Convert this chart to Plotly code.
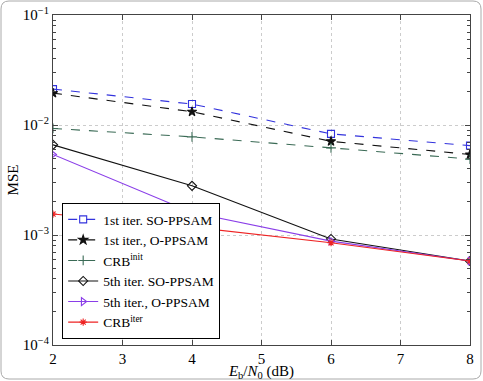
import plotly.graph_objects as go

ebn0 = [2, 4, 6, 8]
so_1st = [0.0212, 0.0155, 0.0083, 0.0065]
o_1st = [0.0195, 0.0132, 0.0071, 0.0054]
crb_init = [0.0093, 0.0078, 0.0062, 0.0049]
so_5th = [0.0066, 0.0028, 0.00092, 0.00058]
o_5th = [0.0054, 0.0016, 0.00088, 0.00058]
crb_iter = [0.00155, 0.00118, 0.00085, 0.00058]

x_ticks = [2, 3, 4, 5, 6, 7, 8]
y_ticks = [1e-4, 1e-3, 1e-2, 1e-1]
y_ticktext = ["10<sup>−4</sup>", "10<sup>−3</sup>", "10<sup>−2</sup>", "10<sup>−1</sup>"]
y_minor = [k * 10.0 ** e for e in (-4, -3, -2) for k in range(2, 10)]

series = [
    ("1st iter. SO-PPSAM", so_1st, "#3333dd", "dash", "square-open", 7),
    ("1st iter., O-PPSAM", o_1st, "#111111", "dash", "star", 7),
    ("CRB<sup>init</sup>", crb_init, "#3a6a55", "dash", "cross-thin-open", 7),
    ("5th iter. SO-PPSAM", so_5th, "#111111", "solid", "diamond-open", 7),
    ("5th iter., O-PPSAM", o_5th, "#8a3ee8", "solid", "triangle-right-open", 7),
    ("CRB<sup>iter</sup>", crb_iter, "#ee2222", "solid", "asterisk-open", 6),
]

fig = go.Figure()
for name, vals, col, dash, sym, sz in series:
    fig.add_trace(go.Scatter(
        x=ebn0, y=vals, name=name, mode="lines+markers",
        line=dict(color=col, dash=dash, width=1.1),
        marker=dict(symbol=sym, size=sz, color=col, line=dict(color=col, width=1.1)),
    ))

font = "Liberation Serif, Times New Roman, serif"
axcol = "#444444"
fig.update_layout(
    width=483, height=381,
    margin=dict(l=53, r=13, t=15, b=36),
    paper_bgcolor="white", plot_bgcolor="white",
    font=dict(family=font, size=15, color="black"),
    showlegend=True,
    legend=dict(x=0.022, y=0.018, xanchor="left", yanchor="bottom",
                bgcolor="white", bordercolor="black", borderwidth=1,
                font=dict(size=13.5), tracegroupgap=0, itemwidth=30),
    xaxis=dict(range=[2, 8], tickvals=x_ticks, automargin=False,
               showgrid=True, gridcolor="#cccccc", griddash="dot", gridwidth=1,
               showline=True, linecolor=axcol, linewidth=1, mirror="ticks",
               ticks="inside", ticklen=5, tickcolor=axcol,
               title=dict(text="<i>E</i><sub>b</sub>/<i>N</i><sub>0</sub> (dB)",
                          standoff=4, font=dict(size=15)),
               zeroline=False),
    yaxis=dict(type="log", range=[-4, -1], automargin=False,
               tickvals=y_ticks, ticktext=y_ticktext,
               showgrid=True, gridcolor="#cccccc", griddash="dot", gridwidth=1,
               showline=True, linecolor=axcol, linewidth=1, mirror="ticks",
               ticks="inside", ticklen=5, tickcolor=axcol,
               minor=dict(tickvals=y_minor, ticks="inside", ticklen=3,
                          tickcolor=axcol, showgrid=False),
               title=dict(text="MSE", standoff=0, font=dict(size=15)),
               zeroline=False),
)

# outer rounded frame
pw, ph = 483 - 53 - 13, 381 - 15 - 36
x0, x1 = (1 - 53) / pw, (481 - 53) / pw
y_bot = -(36 - 2) / ph
y_top = 1 + (15 - 1) / ph
rx, ry = 8 / pw, 8 / ph
path = (f"M {x0+rx},{y_top} L {x1-rx},{y_top} Q {x1},{y_top} {x1},{y_top-ry} "
        f"L {x1},{y_bot+ry} Q {x1},{y_bot} {x1-rx},{y_bot} "
        f"L {x0+rx},{y_bot} Q {x0},{y_bot} {x0},{y_bot+ry} "
        f"L {x0},{y_top-ry} Q {x0},{y_top} {x0+rx},{y_top} Z")
fig.add_shape(type="path", path=path, xref="paper", yref="paper",
              line=dict(color="#aaaaaa", width=1), layer="below")

fig.write_html("out.html")
